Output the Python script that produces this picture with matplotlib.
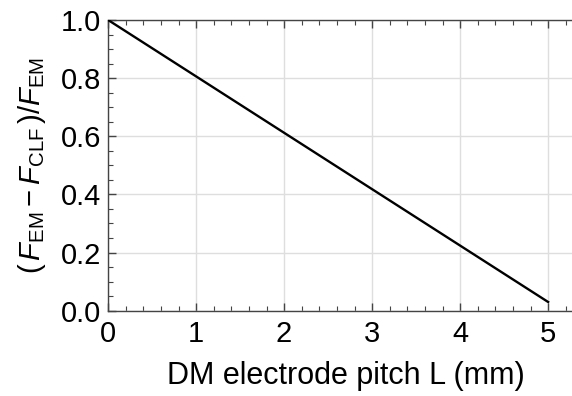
import numpy as np
import matplotlib
matplotlib.use("Agg")
import matplotlib.pyplot as plt
from matplotlib.ticker import MultipleLocator

plt.rcParams['font.family'] = ['Liberation Sans', 'DejaVu Sans']
plt.rcParams['mathtext.fontset'] = 'custom'
plt.rcParams['mathtext.rm'] = 'Liberation Sans'
plt.rcParams['mathtext.it'] = 'Liberation Sans:italic'

# electrode pitch (mm) vs relative force difference
pitch = [0, 1, 2, 3, 4, 5]
ratio = [1.0, 0.806, 0.612, 0.418, 0.224, 0.03]

fig = plt.figure(figsize=(5.72, 3.96), dpi=100)
# axes run a bit past the right edge of the figure, like the original crop
ax = fig.add_axes([0.189, 0.2154, 0.8308, 0.7341])
ax.plot(pitch, ratio, color='black', lw=1.7, zorder=3)

ax.set_xlim(0, 5.4)
ax.set_ylim(0, 1.0)
ax.xaxis.set_minor_locator(MultipleLocator(0.2))
ax.yaxis.set_minor_locator(MultipleLocator(0.05))
ax.set_xticks([0, 1, 2, 3, 4, 5])
ax.set_yticks([0, 0.2, 0.4, 0.6, 0.8, 1.0])
ax.set_yticklabels([f"{v:.1f}" for v in ax.get_yticks()])
ax.grid(True, which='major', color='#dedede', lw=1)
ax.set_axisbelow(True)

ax.tick_params(which='both', direction='in', top=True, right=False, color='#444444',
               labelsize=21)
ax.tick_params(axis='x', pad=7)
ax.tick_params(axis='y', pad=5)
ax.tick_params(which='major', length=6, width=1)
ax.tick_params(which='minor', length=3.5, width=0.8)
for s in ax.spines.values():
    s.set_color('#444444')
    s.set_linewidth(1)

ax.set_xlabel('DM electrode pitch L (mm)', fontsize=22, labelpad=9)
ax.set_ylabel(r'$(\,F_{\mathrm{EM}} - F_{\mathrm{CLF}}\,)/F_{\mathrm{EM}}$', fontsize=21, labelpad=9)

fig.savefig('out.png', dpi=100)
